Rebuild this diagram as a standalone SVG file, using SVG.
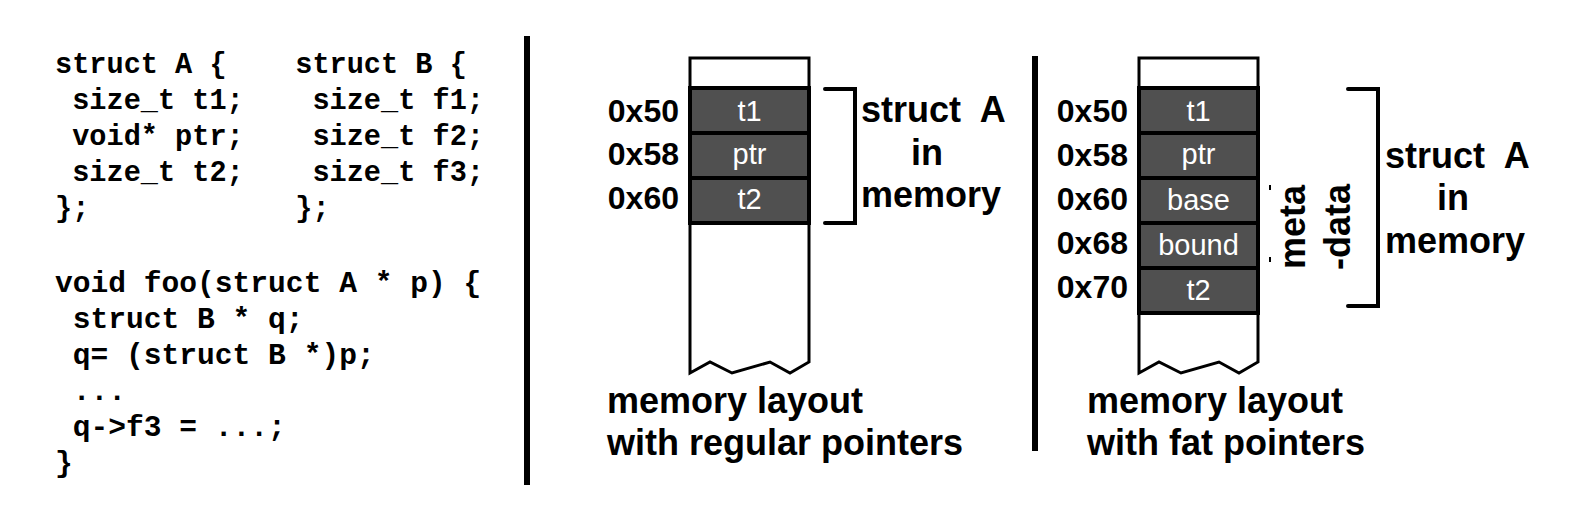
<svg xmlns="http://www.w3.org/2000/svg" width="1572" height="513" viewBox="0 0 1572 513">
<style>
.code{font-family:"Liberation Mono","Courier New",monospace;font-weight:bold;font-size:28.6px;fill:#000;white-space:pre}
.code2{font-size:29.6px}
.addr{font-family:"Liberation Sans",Arial,sans-serif;font-weight:bold;font-size:32px;fill:#000;text-anchor:end}
.lbl{font-family:"Liberation Sans",Arial,sans-serif;font-weight:bold;font-size:36px;fill:#000}
.cap{font-family:"Liberation Sans",Arial,sans-serif;font-weight:bold;font-size:36px;fill:#000}
.cell{fill:#505050;stroke:#000;stroke-width:4}
.ctext{font-family:"Liberation Sans",Arial,sans-serif;font-size:29px;fill:#fff;text-anchor:middle}
.outline{fill:#fff;stroke:#000;stroke-width:3;stroke-linejoin:miter}
.brk{fill:none;stroke:#000;stroke-width:4;stroke-linecap:round}
.div{stroke:#000;stroke-width:6}
</style>
<rect width="1572" height="513" fill="#fff"/>

<g id="code">
<text class="code" x="55" y="73" xml:space="preserve">struct A {    struct B {</text>
<text class="code" x="55" y="109" xml:space="preserve"> size_t t1;    size_t f1;</text>
<text class="code" x="55" y="145" xml:space="preserve"> void* ptr;    size_t f2;</text>
<text class="code" x="55" y="181" xml:space="preserve"> size_t t2;    size_t f3;</text>
<text class="code" x="55" y="217" xml:space="preserve">};            };</text>
<text class="code code2" x="55" y="292" xml:space="preserve">void foo(struct A * p) {</text>
<text class="code code2" x="55" y="328" xml:space="preserve"> struct B * q;</text>
<text class="code code2" x="55" y="364" xml:space="preserve"> q= (struct B *)p;</text>
<text class="code code2" x="55" y="400" xml:space="preserve"> ...</text>
<text class="code code2" x="55" y="436" xml:space="preserve"> q-&gt;f3 = ...;</text>
<text class="code code2" x="55" y="472" xml:space="preserve">}</text>
</g>

<g id="dividers">
<line class="div" x1="527" y1="36" x2="527" y2="485"/>
<line class="div" x1="1035" y1="56" x2="1035" y2="451"/>
</g>

<g id="regular-layout">
<path class="outline" d="M690,58 H809 V362 L790,373 L770,362 L732,373 L710,362 L690,373 Z"/>
<rect class="cell" x="690" y="88" width="119" height="45"/>
<rect class="cell" x="690" y="133" width="119" height="45"/>
<rect class="cell" x="690" y="178" width="119" height="45"/>
<text class="ctext" x="749.5" y="121">t1</text>
<text class="ctext" x="749.5" y="164">ptr</text>
<text class="ctext" x="749.5" y="209">t2</text>
<text class="addr" x="679" y="122">0x50</text>
<text class="addr" x="679" y="165">0x58</text>
<text class="addr" x="679" y="209">0x60</text>
<path class="brk" d="M825,89 H855 V223 H825"/>
<text class="lbl" x="861" y="122" xml:space="preserve">struct  A</text>
<text class="lbl" x="927" y="165" text-anchor="middle">in</text>
<text class="lbl" x="861" y="207">memory</text>
<text class="cap" x="607" y="413">memory layout</text>
<text class="cap" x="607" y="455">with regular pointers</text>
</g>

<g id="fat-layout">
<path class="outline" d="M1139,58 H1258 V362 L1239,373 L1219,362 L1181,373 L1159,362 L1139,373 Z"/>
<rect class="cell" x="1139" y="88" width="119" height="45"/>
<rect class="cell" x="1139" y="133" width="119" height="45"/>
<rect class="cell" x="1139" y="178" width="119" height="45"/>
<rect class="cell" x="1139" y="223" width="119" height="45"/>
<rect class="cell" x="1139" y="268" width="119" height="45"/>
<text class="ctext" x="1198.5" y="121">t1</text>
<text class="ctext" x="1198.5" y="164">ptr</text>
<text class="ctext" x="1198.5" y="210">base</text>
<text class="ctext" x="1198.5" y="255">bound</text>
<text class="ctext" x="1198.5" y="300">t2</text>
<text class="addr" x="1128" y="122">0x50</text>
<text class="addr" x="1128" y="166">0x58</text>
<text class="addr" x="1128" y="210">0x60</text>
<text class="addr" x="1128" y="254">0x68</text>
<text class="addr" x="1128" y="298">0x70</text>
<line x1="1270" y1="185" x2="1270" y2="190" stroke="#000" stroke-width="2"/>
<line x1="1270" y1="257" x2="1270" y2="262" stroke="#000" stroke-width="2"/>
<text class="lbl" font-size="31" text-anchor="middle" transform="translate(1305,227) rotate(-90)">meta</text>
<text class="lbl" font-size="32" text-anchor="middle" transform="translate(1350,227) rotate(-90)">-data</text>
<path class="brk" d="M1348,89 H1378 V306 H1348"/>
<text class="lbl" x="1385" y="168" xml:space="preserve">struct  A</text>
<text class="lbl" x="1453" y="210" text-anchor="middle">in</text>
<text class="lbl" x="1385" y="253">memory</text>
<text class="cap" x="1087" y="413">memory layout</text>
<text class="cap" x="1087" y="455">with fat pointers</text>
</g>
</svg>
